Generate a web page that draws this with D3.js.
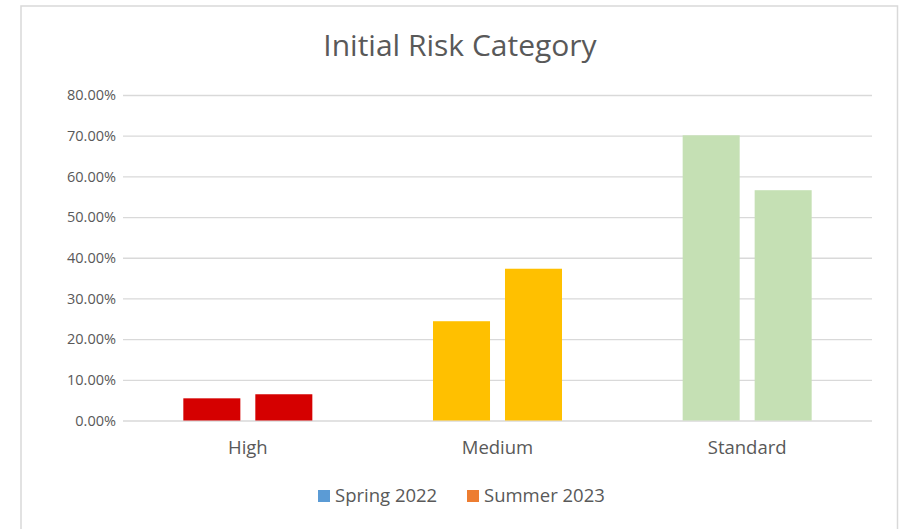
<!DOCTYPE html>
<html>
<head>
<meta charset="utf-8">
<script src="https://cdn.jsdelivr.net/npm/d3@7"></script>
<style>
  html, body { margin: 0; padding: 0; background: #ffffff; }
  svg { display: block; }
  text { font-family: "Open Sans", "Noto Sans", sans-serif; fill: #595959; }
</style>
</head>
<body>
<svg id="chart" width="899" height="529"></svg>
<script>
// ---- data ----
const title = "Initial Risk Category";
const categories = ["High", "Medium", "Standard"];
const seriesNames = ["Spring 2022", "Summer 2023"];
const spring2022 = [0.0545, 0.244, 0.701];
const summer2023 = [0.0645, 0.373, 0.566];
const yTicks = [0, 0.1, 0.2, 0.3, 0.4, 0.5, 0.6, 0.7, 0.8];
const categoryColors = ["#D50000", "#FFC000", "#C5E0B4"];
const legendColors = ["#5B9BD5", "#ED7D31"];

// ---- layout ----
const W = 899, H = 529;
const plot = { left: 123, right: 872, top: 95, bottom: 420.5 };

const svg = d3.select("#chart");
svg.append("rect").attr("width", W).attr("height", H).attr("fill", "#fff");

// chart border
svg.append("path")
  .attr("d", `M21,${H} L21,6 L897.5,6 L897.5,${H}`)
  .attr("fill", "none").attr("stroke", "#D9D9D9").attr("stroke-width", 1.5);

const x0 = d3.scaleBand().domain(categories).range([plot.left, plot.right]).padding(0);
const x1 = d3.scaleBand().domain(seriesNames).range([0, x0.bandwidth()])
  .paddingInner(0.208).paddingOuter(0.838);
const y = d3.scaleLinear().domain([0, 0.8]).range([plot.bottom, plot.top]);

// title
svg.append("text")
  .attr("x", 460).attr("y", 56)
  .attr("text-anchor", "middle")
  .attr("font-size", 30)
  .text(title);

// gridlines + y axis
const yAxis = d3.axisLeft(y).tickValues(yTicks)
  .tickSize(-(plot.right - plot.left)).tickPadding(7)
  .tickFormat(d => (d * 100).toFixed(2) + "%");
const gy = svg.append("g").attr("transform", `translate(${plot.left},0)`).call(yAxis);
gy.select(".domain").remove();
gy.selectAll(".tick line").attr("stroke", "#D9D9D9").attr("stroke-width", 1.3);
gy.selectAll(".tick text").attr("font-size", 14.5).attr("fill", "#595959")
  .attr("font-family", "'Open Sans', sans-serif");

// bars
const rows = categories.map((c, i) => ({
  cat: c, color: categoryColors[i],
  vals: [spring2022[i], summer2023[i]]
}));
const groups = svg.append("g").selectAll("g").data(rows).join("g")
  .attr("transform", d => `translate(${x0(d.cat)},0)`);
groups.selectAll("rect")
  .data(d => d.vals.map((v, j) => ({ s: seriesNames[j], v, color: d.color })))
  .join("rect")
  .attr("x", d => x1(d.s))
  .attr("width", x1.bandwidth())
  .attr("y", d => y(d.v))
  .attr("height", d => y(0) - y(d.v))
  .attr("fill", d => d.color);

// x axis labels
const xAxis = d3.axisBottom(x0).tickSize(0).tickPadding(20);
const gx = svg.append("g").attr("transform", `translate(0,${plot.bottom})`).call(xAxis);
gx.select(".domain").remove();
gx.selectAll(".tick text").attr("font-size", 18.5).attr("fill", "#595959")
  .attr("font-family", "'Open Sans', sans-serif");

// legend
const legend = svg.append("g");
const legendX = [318, 467];
seriesNames.forEach((s, i) => {
  const g = legend.append("g").attr("transform", `translate(${legendX[i]},490)`);
  g.append("rect").attr("width", 12).attr("height", 12).attr("fill", legendColors[i]);
  g.append("text").attr("x", 17).attr("y", 12).attr("font-size", 18.5).text(s);
});
</script>
</body>
</html>
